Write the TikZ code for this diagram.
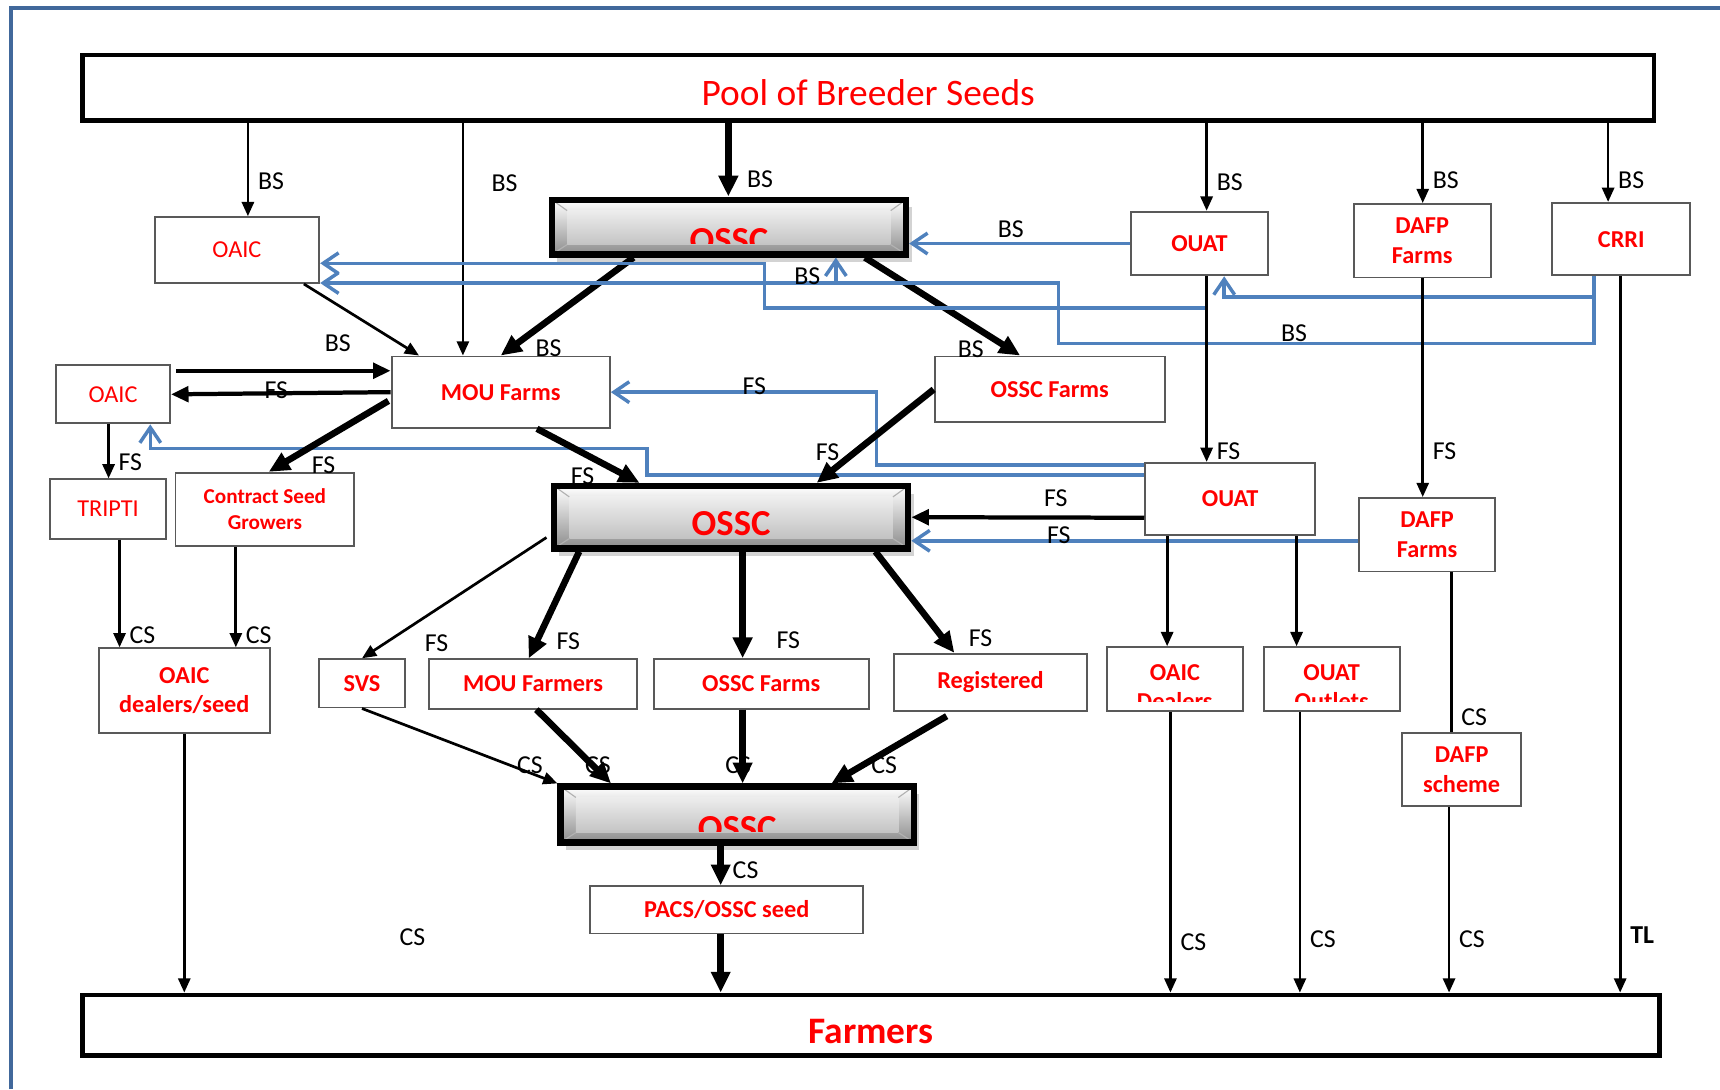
\documentclass[tikz,border=0pt]{standalone}
\usepackage{fontspec}
\setmainfont{Carlito}
\usepackage{tikz}
\usetikzlibrary{arrows.meta,calc,shadows}

\definecolor{flowblue}{RGB}{79,129,189}
\definecolor{framecol}{RGB}{65,104,155}

\tikzset{
  org/.style={draw=black!65, line width=0.5pt, fill=white, text=red, align=center,
    inner sep=0pt, font=\bfseries\fontsize{6.3}{7.7}\selectfont},
  orgplain/.style={org, font=\fontsize{6.3}{7.7}\selectfont},
  orgtext/.style={text=red, align=center, inner sep=0pt, font=\bfseries\fontsize{6.3}{7.7}\selectfont},
  bigbar/.style={draw=black, line width=1.2pt, fill=white, text=red, inner sep=0pt, text depth=0mm},
  bevelbar/.style={draw=black, line width=1.6pt, top color=white, middle color=black!14, bottom color=black!45,
    drop shadow={shadow xshift=0.5mm, shadow yshift=-0.7mm, opacity=0.35},
    path picture={
      \shade[top color=black!2, bottom color=black!28]
        ([xshift=1.4mm,yshift=-1mm]path picture bounding box.north west) rectangle
        ([xshift=-1.4mm,yshift=0.9mm]path picture bounding box.south east);
      \draw[black!30, line width=0.3pt]
        (path picture bounding box.north west) -- ([xshift=1.4mm,yshift=-1mm]path picture bounding box.north west)
        (path picture bounding box.south west) -- ([xshift=1.4mm,yshift=0.9mm]path picture bounding box.south west)
        (path picture bounding box.north east) -- ([xshift=-1.4mm,yshift=-1mm]path picture bounding box.north east)
        (path picture bounding box.south east) -- ([xshift=-1.4mm,yshift=0.9mm]path picture bounding box.south east);
    }},
  ossctext/.style={text=red, inner sep=0pt, font=\bfseries\fontsize{9.5}{11}\selectfont},
  lbl/.style={font=\fontsize{6.7}{8}\selectfont, inner sep=0.8mm},
  arr/.style={-{Triangle[length=1.3mm,width=1.1mm]}, line width=0.7pt},
  link/.style={line width=0.7pt},
  med/.style={-{Triangle[length=1.6mm,width=1.4mm]}, line width=1.1pt},
  fat/.style={-{Triangle[length=1.9mm,width=1.7mm]}, line width=1.7pt},
  blu/.style={-{Straight Barb[length=1.4mm,width=1.9mm]}, draw=flowblue, line width=0.9pt}
}

\begin{document}
\begin{tikzpicture}[x=0.1mm, y=-0.1mm]
    \useasboundingbox (0,0) rectangle (1568,993);
    \draw[framecol, line width=1pt] (10,993) -- (10,7) -- (1568,7);

    % source and sink bars
    \node[bigbar, minimum width=143.3mm, minimum height=6mm, text height=3.2mm, font=\fontsize{9.7}{11}\selectfont] (pool) at (791.5,80) {Pool of Breeder Seeds};
    \node[bigbar, minimum width=143.8mm, minimum height=5.5mm, text height=3.3mm, font=\bfseries\fontsize{9.7}{11}\selectfont] (farmers) at (794,934.5) {Farmers};

    % OSSC bars
    \node[bevelbar, minimum width=32.3mm, minimum height=5mm] (osscA) at (664.5,207) {};
    \node[bevelbar, minimum width=32.3mm, minimum height=5.7mm] (osscB) at (666.5,471.5) {};
    \node[bevelbar, minimum width=32.2mm, minimum height=5.1mm] (osscC) at (672,742.5) {};
    \begin{scope}
        \clip (osscA.north west) rectangle ($(osscA.south east)+(0,-13)$);
        \node[ossctext] (osscA-t) at ($(osscA.center)+(0,12)$) {OSSC};
    \end{scope}
    \node[ossctext] (osscB-t) at ($(osscB.center)+(0,6)$) {OSSC};
    \begin{scope}
        \clip (osscC.north west) rectangle ($(osscC.south east)+(0,-13)$);
        \node[ossctext] (osscC-t) at ($(osscC.center)+(0,12.5)$) {OSSC};
    \end{scope}

    % agencies
    \node[orgplain, minimum width=15mm, minimum height=6mm] (oaic1) at (216,228) {OAIC};
    \node[org, minimum width=12.5mm, minimum height=5.8mm] (ouat1) at (1093.5,222) {OUAT};
    \node[org, minimum width=12.5mm, minimum height=6.7mm] (dafp1) at (1296.5,219.5) {DAFP\\Farms};
    \node[org, minimum width=12.6mm, minimum height=6.6mm] (crri) at (1478,218) {CRRI};
    \node[orgplain, minimum width=10.4mm, minimum height=5.3mm] (oaic2) at (103,359.5) {OAIC};
    \node[org, minimum width=19.9mm, minimum height=6.5mm] (moufarms) at (456.5,357.5) {MOU Farms};
    \node[org, minimum width=21mm, minimum height=6mm] (osscfarms1) at (957,355) {OSSC Farms};
    \node[orgplain, minimum width=10.5mm, minimum height=5.4mm] (tripti) at (98.5,464) {TRIPTI};
    \node[org, minimum width=16.3mm, minimum height=6.7mm, font=\bfseries\fontsize{5.5}{6.8}\selectfont] (csg) at (241.5,464.5) {Contract Seed\\Growers};
    \node[org, minimum width=15.5mm, minimum height=6.6mm] (ouat2) at (1121.5,455) {OUAT};
    \node[org, minimum width=12.4mm, minimum height=6.7mm] (dafp2) at (1301,487.5) {DAFP\\Farms};
    \node[org, minimum width=15.6mm, minimum height=7.7mm] (oaicdealers) at (168,629.5) {OAIC\\dealers/seed};
    \node[org, minimum width=7.8mm, minimum height=4.4mm] (svs) at (330,623) {SVS};
    \node[org, minimum width=19mm, minimum height=4.5mm] (moufarmers) at (486,623.5) {MOU Farmers};
    \node[org, minimum width=19.6mm, minimum height=4.5mm] (osscfarms2) at (694,623.5) {OSSC Farms};
    \node[org, minimum width=17.6mm, minimum height=5.2mm] (registered) at (903,622) {Registered};
    \node[org, minimum width=12.4mm, minimum height=5.8mm] (oaicdl) at (1071,619) {};
    \node[org, minimum width=12.4mm, minimum height=5.8mm] (ouatout) at (1214,619) {};
    \node[org, minimum width=10.9mm, minimum height=6.7mm] (dafpscheme) at (1332.5,701.5) {DAFP\\scheme};
    \node[org, minimum width=24.9mm, minimum height=4.3mm] (pacs) at (662.5,829.5) {PACS/OSSC seed};
    \begin{scope}
        \clip (oaicdl.north west) rectangle ($(oaicdl.south east)+(0,-9)$);
        \node[orgtext] (oaicdl-t) at ($(oaicdl.center)+(0,7.5)$) {OAIC\\Dealers};
    \end{scope}
    \begin{scope}
        \clip (ouatout.north west) rectangle ($(ouatout.south east)+(0,-9)$);
        \node[orgtext] (ouatout-t) at ($(ouatout.center)+(0,7.5)$) {OUAT\\Outlets};
    \end{scope}

    % guide columns and bends
    \foreach \x in {99,109,168,215,226,422,657,664,677,1064,1067,1100,1182,1185,1297,1321,1323,1466,1477}
        \coordinate (g\x) at (\x,0);
    \coordinate (j1) at (1100,281);
    \coordinate (b1) at (697,240);
    \coordinate (c1) at ($(crri.south)+(-25,0)$);
    \coordinate (c2) at ($(c1)+(0,19)$);
    \coordinate (b2) at (965,313);
    \coordinate (b3) at (965,258);
    \coordinate (b4) at (762,258);
    \coordinate (b6) at (799,357.5);
    \coordinate (b7) at (590,409);
    \coordinate (m1) at ($(oaic2.east)+(5,-21.5)$);

    % breeder seed out of the pool
    \draw[arr] (pool.south -| g226) -- node[lbl, pos=.62, anchor=west] {BS} (oaic1.north -| g226);
    \draw[arr] (pool.south -| g422) -- node[lbl, pos=.26, anchor=west, xshift=1.7mm] {BS} (moufarms.north -| g422);
    \draw[fat] (pool.south -| g664) -- node[lbl, pos=.76, anchor=west, xshift=.6mm] {BS} (osscA.north -| g664);
    \draw[arr] (pool.south -| g1100) -- node[lbl, pos=.67, anchor=west] {BS} (ouat1.north -| g1100);
    \draw[arr] (pool.south -| g1297) -- node[lbl, pos=.72, anchor=west] {BS} (dafp1.north -| g1297);
    \draw[arr] (pool.south -| g1466) -- node[lbl, pos=.73, anchor=west] {BS} (crri.north -| g1466);

    \draw[fat] ($(osscA.south)+(-87,0)$) -- node[lbl, at end, xshift=4.35mm, yshift=.7mm] {BS} (moufarms.north);
    \draw[fat] ($(osscA.south)+(124,0)$) -- node[lbl, at end, xshift=-4.5mm, yshift=.6mm] {BS} ($(osscfarms1.north)+(-27,0)$);
    \draw[arr] ($(oaic1.south)+(61,0)$) -- node[lbl, at end, xshift=-7.4mm, yshift=1.1mm] {BS} ($(moufarms.north)+(-74.5,0)$);

    % blue returns
    \draw[blu] (ouat1.west) -- node[lbl, pos=.54, anchor=south, inner sep=.4mm] {BS} (ouat1.west -| osscA.east);
    \draw[blu] (j1) -| (b1) -- (b1 -| oaic1.east);
    \draw[blu] (c1) |- node[lbl, pos=.78, anchor=south, inner sep=0mm] {BS} (b2) -- (b3) -- (b3 -| oaic1.east);
    \draw[blu] (b4) -- node[lbl, at start, xshift=-2.6mm, yshift=.6mm] {BS} (b4 |- osscA.south);
    \draw[blu] (c2) -| ($(ouat1.south)+(22.5,0)$);
    \draw[blu] ($(ouat2.west)+(0,-31)$) -| (b6) -- node[lbl, pos=.46, yshift=.5mm] {FS} (moufarms.east);
    \draw[blu] ($(ouat2.west)+(0,-22)$) -| (b7) -| ($(oaic2.south)+(34,0)$);
    \draw[blu] ($(dafp2.west)+(0,5.5)$) -- node[lbl, pos=.67, yshift=.5mm] {FS} ($(osscB.east)+(0,21.5)$);

    % foundation seed
    \draw[arr] (ouat1.south -| g1100) -- node[lbl, pos=.94, anchor=west] {FS} (ouat2.north -| g1100);
    \draw[arr] (dafp1.south -| g1297) -- node[lbl, pos=.79, anchor=west] {FS} (dafp2.north -| g1297);
    \draw[med] (m1) -- (m1 -| moufarms.west);
    \draw[med] (moufarms.west) -- node[lbl, midway, xshift=-.4mm, yshift=.3mm] {FS} (oaic2.east);
    \draw[fat] ($(moufarms.west)+(-2,8)$) -- node[lbl, at end, xshift=5mm, yshift=.6mm] {FS} ($(csg.north)+(3.5,0)$);
    \draw[fat] ($(moufarms.south)+(33,0)$) -- node[lbl, at end, xshift=-5.2mm, yshift=.6mm] {FS} ($(osscB.north)+(-83.5,0)$);
    \draw[fat] (osscfarms1.west) -- node[lbl, at end, xshift=1mm, yshift=2.8mm] {FS} ($(osscB.north)+(78,0)$);
    \draw[med] ($(ouat2.west)+(0,17)$) -- node[lbl, pos=.38, anchor=south] {FS} (osscB.east);
    \draw[arr] (oaic2.south -| g99) -- node[lbl, pos=.7, anchor=west] {FS} (tripti.north -| g99);

    \draw[arr] ($(osscB.west)+(-4,18.5)$) -- node[lbl, at end, xshift=6.8mm, yshift=1.4mm] {FS} (svs.north);
    \draw[fat] ($(osscB.south)+(-138.5,0)$) -- node[lbl, at end, xshift=3.6mm, yshift=1.6mm] {FS} ($(moufarmers.north)+(-4,0)$);
    \draw[fat] (osscB.south -| g677) -- node[lbl, pos=.83, anchor=west, xshift=2mm] {FS} (osscfarms2.north -| g677);
    \draw[fat] ($(osscB.south)+(131.5,0)$) -- node[lbl, at end, xshift=2.4mm, yshift=1.3mm] {FS} ($(registered.north)+(-33,0)$);

    % certified seed
    \draw[arr] (tripti.south -| g109) -- node[lbl, pos=.89, anchor=west] {CS} (oaicdealers.north -| g109);
    \draw[arr] (csg.south -| g215) -- node[lbl, pos=.88, anchor=west] {CS} (oaicdealers.north -| g215);
    \draw[arr] (oaicdealers.south -| g168) -- (farmers.north -| g168);

    \draw[arr] (svs.south) -- node[lbl, at end, xshift=-2.5mm, yshift=1.7mm] {CS} (osscC.north west);
    \draw[fat] ($(moufarmers.south)+(3,0)$) -- node[lbl, at end, xshift=-1.2mm, yshift=1.7mm] {CS} ($(osscC.north)+(-115,0)$);
    \draw[fat] (osscfarms2.south -| g677) -- node[lbl, pos=.76, xshift=-.4mm] {CS} (osscC.north -| g677);
    \draw[fat] ($(registered.south)+(-40,4)$) -- node[lbl, at end, xshift=4.8mm, yshift=1.7mm] {CS} ($(osscC.north)+(86,0)$);
    \draw[fat] (osscC.south -| g657) -- node[lbl, pos=.63, anchor=west] {CS} (pacs.north -| g657);
    \draw[fat] (pacs.south -| g657) -- (farmers.north -| g657);

    \draw[arr] (ouat2.south -| g1064) -- (oaicdl.north -| g1064);
    \draw[arr] (ouat2.south -| g1182) -- (ouatout.north -| g1182);
    \draw[arr] (oaicdl.south -| g1067) -- node[lbl, pos=.82, anchor=west] {CS} (farmers.north -| g1067);
    \draw[arr] (ouatout.south -| g1185) -- node[lbl, pos=.81, anchor=west] {CS} (farmers.north -| g1185);
    \draw[link] (dafp2.south -| g1323) -- node[lbl, pos=.91, anchor=west] {CS} (dafpscheme.north -| g1323);
    \draw[arr] (dafpscheme.south -| g1321) -- node[lbl, pos=.71, anchor=west] {CS} (farmers.north -| g1321);
    \draw[arr] (crri.south -| g1477) -- node[lbl, pos=.92, anchor=west, font=\bfseries\fontsize{6.7}{8}\selectfont] {TL} (farmers.north -| g1477);

    \node[lbl] (csfree) at (376,854) {CS};
\end{tikzpicture}
\end{document}
